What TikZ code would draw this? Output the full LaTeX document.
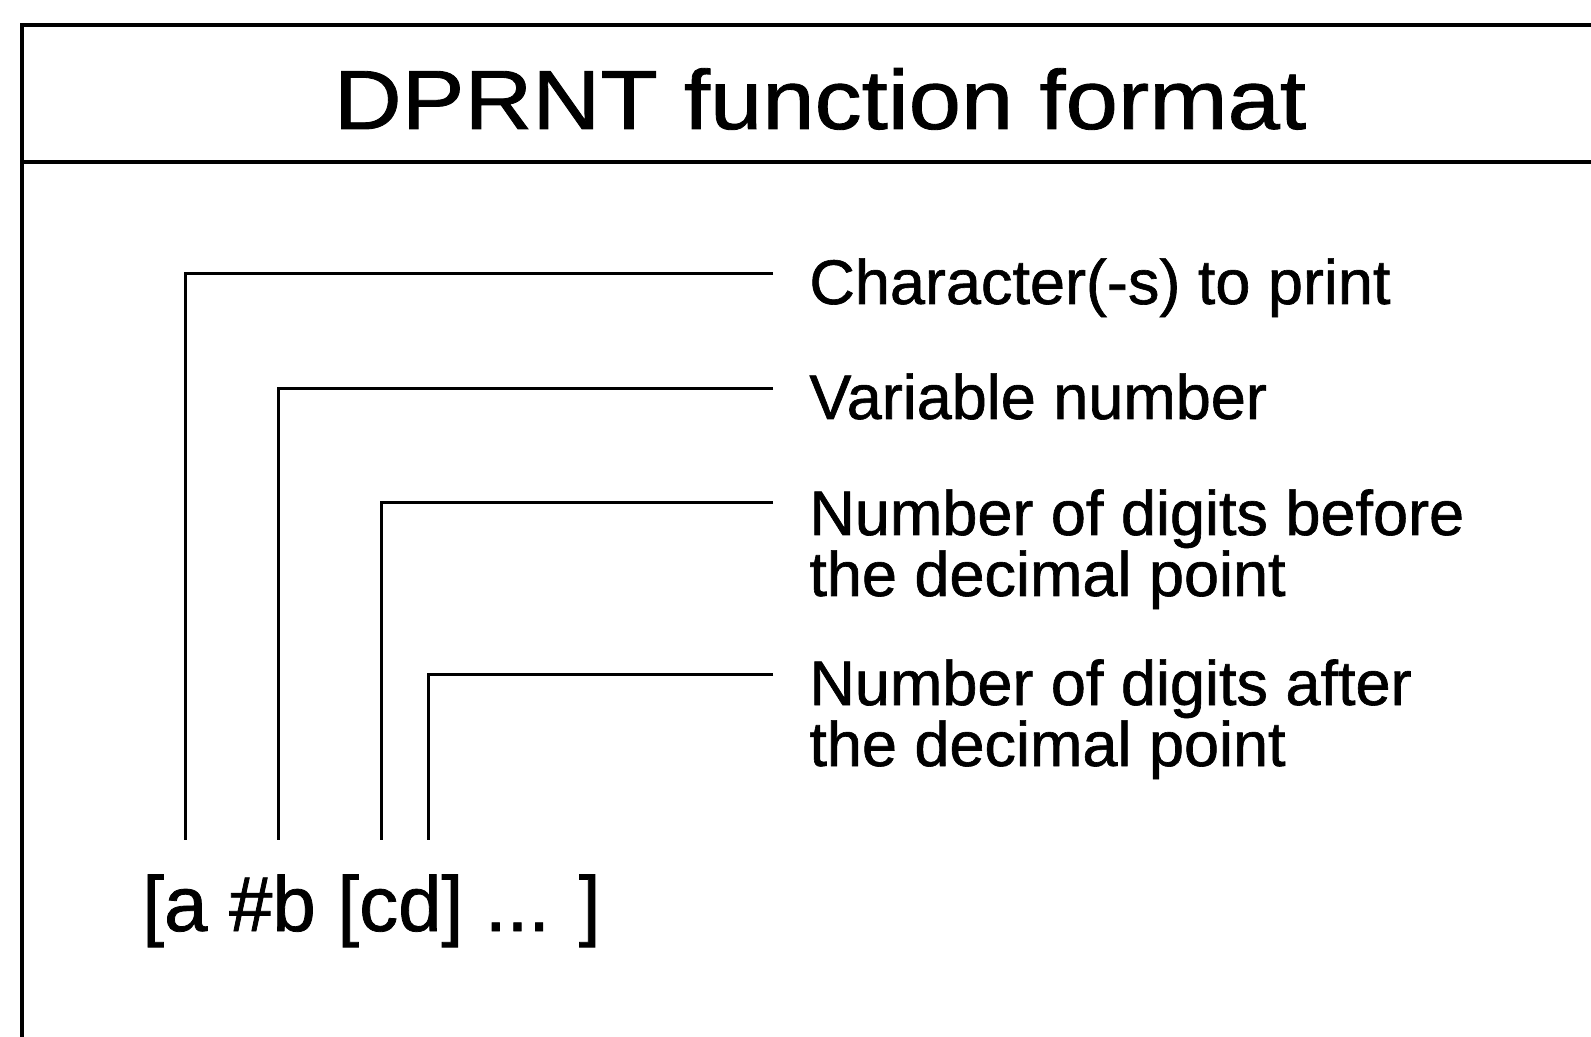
\documentclass[tikz,border=0pt]{standalone}
\usepackage{fontspec}
\setmainfont[FakeBold=1]{Liberation Sans}
\newfontfamily\titlefont[FakeStretch=1.12,FakeBold=1]{Liberation Sans}

\tikzset{
  frameline/.style={line width=2pt},
  leader/.style={line width=1.5pt},
  desc/.style={anchor=base west, inner sep=0pt, align=left,
    font=\fontsize{31.5}{30.5}\selectfont},
  titletext/.style={anchor=base, inner sep=0pt,
    font=\titlefont\fontsize{42}{48}\selectfont},
  fmttext/.style={anchor=base west, inner sep=0pt,
    font=\fontsize{39}{44}\selectfont},
}

\begin{document}
\begin{tikzpicture}[x=0.5pt, y=-0.5pt]
        \useasboundingbox (0,0) rectangle (1591,1037);
        
        % frame and heading
        \draw[frameline] (1591,25) -- (22,25) -- (22,1037);
        \draw[frameline] (22,162) -- (1591,162);
        \node[titletext] (title) at (820,129) {DPRNT function format};
        
        % the format
        \node[fmttext] (format) at (142,931) {[a \#b [cd] ... ]};
        \coordinate (A) at (185,840);
        \coordinate (B) at (278,840);
        \coordinate (C) at (381,840);
        \coordinate (D) at (428,840);
        
        % leader ends
        \coordinate (E) at (773,274);
        \coordinate (F) at (773,389);
        \coordinate (G) at (773,503);
        \coordinate (H) at (773,674);
        
        \draw[leader] (E) -| (A);
        \draw[leader] (F) -| (B);
        \draw[leader] (G) -| (C);
        \draw[leader] (H) -| (D);
        
        % descriptions (two-line ones sit on their last line)
        \node[desc] (chars) at (809,304) {Character(-s) to print};
        \node[desc] (var) at (809,419) {Variable number};
        \node[desc] (before) at (809,596) {Number of digits before\\the decimal point};
        \node[desc] (after) at (809,766) {Number of digits after\\the decimal point};
        
    \end{tikzpicture}
\end{document}
